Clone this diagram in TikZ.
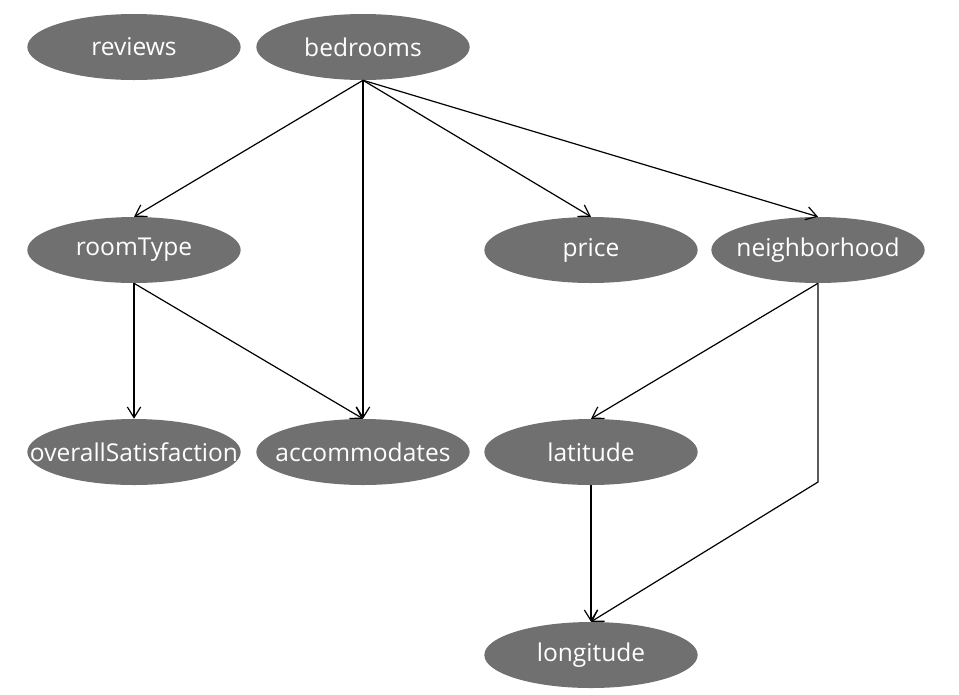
\documentclass[tikz,border=0pt]{standalone}
\usepackage{fontspec}
\setmainfont{Open Sans}
\usepackage{tikz}
\usetikzlibrary{arrows.meta, shapes.geometric}
\definecolor{nodegray}{HTML}{707070}
\newcommand{\nm}[1]{\makebox[0pt]{#1}}

\begin{document}
\begin{tikzpicture}[x=0.75pt, y=-0.75pt,
        var/.style={ellipse, fill=nodegray, text=white, inner sep=0pt,
            minimum width=160pt, minimum height=49.5pt, font=\fontsize{18.4}{22}\selectfont},
        edge/.style={line width=0.9pt, -{Straight Barb[length=8pt, width=10pt, line width=0.9pt]}}]
        \useasboundingbox (0,0) rectangle (959,694);

        \node[var] (reviews) at (134,47) {\nm{reviews}};
        \node[var] (bedrooms) at (363,47) {\nm{bedrooms}};
        \node[var] (roomType) at (134,250) {\nm{roomType}};
        \node[var] (price) at (591,250) {\nm{price}};
        \node[var] (neighborhood) at (818,250) {\nm{neighborhood}};
        \node[var] (overall) at (134,452) {\nm{overallSatisfaction}};
        \node[var] (accommodates) at (363,452) {\nm{accommodates}};
        \node[var] (latitude) at (591,452) {\nm{latitude}};
        \node[var] (longitude) at (591,655) {\nm{longitude}};
        \coordinate (bend) at (818,482);

        \draw[edge] (bedrooms.south) -- (roomType.north);
        \draw[edge] (bedrooms.south) -- (accommodates.north);
        \draw[edge] (bedrooms.south) -- (price.north);
        \draw[edge] (bedrooms.south) -- (neighborhood.north);
        \draw[edge] (roomType.south) -- (overall.north);
        \draw[edge] (roomType.south) -- (accommodates.north);
        \draw[edge] (neighborhood.south) -- (latitude.north);
        \draw[edge] (neighborhood.south) -- (bend) -- (longitude.north);
        \draw[edge] (latitude.south) -- (longitude.north);
    \end{tikzpicture}
\end{document}
